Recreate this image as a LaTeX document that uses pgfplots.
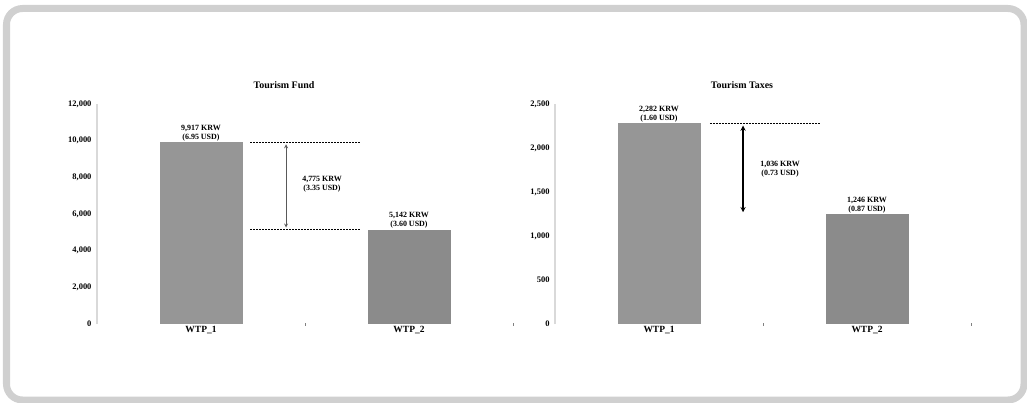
\documentclass[border=0pt]{standalone}
\usepackage{pgfplots}
\pgfplotsset{compat=1.18}
\usepackage{fontspec}
\setmainfont{Liberation Serif}
\definecolor{barA}{HTML}{969696}
\definecolor{barB}{HTML}{8B8B8B}
\definecolor{frame}{HTML}{D0D0D0}
\definecolor{axl}{HTML}{D9D9D9}
\tikzset{
  lab/.style={align=center, font=\fontsize{8}{9}\selectfont\bfseries, inner sep=1bp},
  dsh/.style={black, dash pattern=on 2bp off 1bp, line width=0.9bp},
}
\begin{document}
\begin{tikzpicture}[x=1bp,y=1bp]
\useasboundingbox (0,0) rectangle (1027,402);
\draw[frame, line width=7bp, rounded corners=16bp] (6.5,2) rectangle (1024,393.5);
\pgfplotsset{
  myax/.style={
    scale only axis, width=416bp, height=220bp,
    xmin=0.5, xmax=2.5, ymin=0,
    scaled y ticks=false,
    xtick={1,2}, xticklabels={WTP\_1,WTP\_2},
    x tick label style={font=\fontsize{9.5}{10}\selectfont\bfseries, yshift=1bp},
    y tick label style={font=\fontsize{8.5}{9}\selectfont\bfseries, xshift=-2bp},
    /pgf/number format/assume math mode=true,
    /pgf/number format/1000 sep={,},
    axis x line=bottom, axis y line=left,
    x axis line style={draw=none,-}, y axis line style={axl, line width=1.2bp,-},
    major tick length=0pt,
    extra x ticks={1.5,2.5}, extra x tick labels={},
    extra x tick style={major tick length=3bp, tick style={gray, line width=1bp}, tick align=center},
    ybar, bar width=83bp, bar shift=0pt,
    clip=false,
  },
}
\begin{axis}[myax, at={(97bp,78bp)}, anchor=south west,
  ymax=12000, ytick={0,2000,4000,6000,8000,10000,12000}]
\addplot[fill=barA, draw=none] coordinates {(1,9917)};
\addplot[fill=barB, draw=none] coordinates {(2,5142)};
\node[lab, above] at (axis cs:1,9917) {9,917 KRW\\(6.95 USD)};
\node[lab, above] at (axis cs:2,5142) {5,142 KRW\\(3.60 USD)};
\draw[dsh] (axis cs:1.236,9917) -- (axis cs:1.764,9917);
\draw[dsh] (axis cs:1.236,5142) -- (axis cs:1.764,5142);
\draw[gray!70!black, line width=0.8bp, <->, >=stealth] (axis cs:1.409,9800) -- (axis cs:1.409,5260);
\node[lab] at (axis cs:1.582,7600) {4,775 KRW\\(3.35 USD)};
\end{axis}
\begin{axis}[myax, at={(555bp,78bp)}, anchor=south west,
  ymax=2500, ytick={0,500,1000,1500,2000,2500}]
\addplot[fill=barA, draw=none] coordinates {(1,2282)};
\addplot[fill=barB, draw=none] coordinates {(2,1246)};
\node[lab, above] at (axis cs:1,2282) {2,282 KRW\\(1.60 USD)};
\node[lab, above] at (axis cs:2,1246) {1,246 KRW\\(0.87 USD)};
\draw[dsh] (axis cs:1.245,2282) -- (axis cs:1.774,2282);
\draw[black, line width=1.3bp, <->, >=stealth] (axis cs:1.404,2255) -- (axis cs:1.404,1270);
\node[lab] at (axis cs:1.582,1760) {1,036 KRW\\(0.73 USD)};
\end{axis}
\node[font=\fontsize{10}{11}\selectfont\bfseries] at (284,317) {Tourism Fund};
\node[font=\fontsize{10}{11}\selectfont\bfseries] at (742,317) {Tourism Taxes};
\end{tikzpicture}
\end{document}
